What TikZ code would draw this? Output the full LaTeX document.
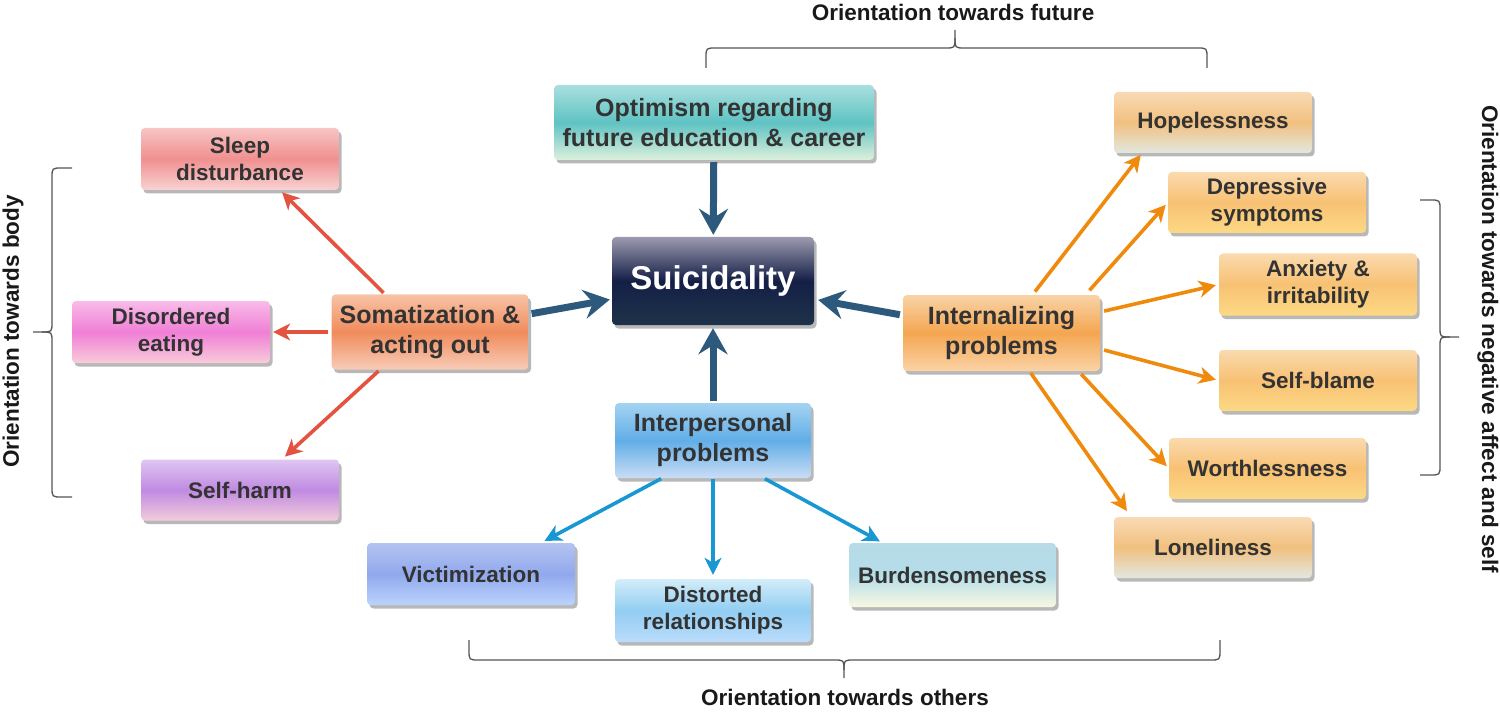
\documentclass[tikz,border=0pt]{standalone}
\usepackage{fontspec}
\setmainfont{Liberation Sans}
\usetikzlibrary{arrows.meta,shadows,calc}
\definecolor{txt}{HTML}{333333}
\definecolor{darkarr}{HTML}{2D5A7C}
\definecolor{redarr}{HTML}{E4533F}
\definecolor{orarr}{HTML}{EF8A0C}
\definecolor{bluarr}{HTML}{1897D3}
\definecolor{brc}{HTML}{555555}
% box gradients
\definecolor{optT}{HTML}{A9DFDE}\definecolor{optM}{HTML}{5FC3C3}\definecolor{optB}{HTML}{DDF0DC}
\definecolor{suiT}{HTML}{9C9AB0}\definecolor{suiM}{HTML}{141F46}\definecolor{suiB}{HTML}{1E3249}
\definecolor{slpT}{HTML}{F8C4C4}\definecolor{slpM}{HTML}{F09090}\definecolor{slpB}{HTML}{F9D2D2}
\definecolor{disT}{HTML}{F8BCE8}\definecolor{disM}{HTML}{F07FD6}\definecolor{disB}{HTML}{F8CCDA}
\definecolor{shT}{HTML}{DEC6F2}\definecolor{shM}{HTML}{C08AE2}\definecolor{shB}{HTML}{F2CCDA}
\definecolor{somT}{HTML}{F8C3A6}\definecolor{somM}{HTML}{F08C5C}\definecolor{somB}{HTML}{F8CCB8}
\definecolor{intT}{HTML}{F9D3A6}\definecolor{intM}{HTML}{F4A651}\definecolor{intB}{HTML}{FBD3A6}
\definecolor{hopT}{HTML}{F9DAB4}\definecolor{hopM}{HTML}{F1C07F}\definecolor{hopB}{HTML}{E2E8E0}
\definecolor{orgT}{HTML}{FADAAE}\definecolor{orgM}{HTML}{F8C173}\definecolor{orgB}{HTML}{FCD985}
\definecolor{ipT}{HTML}{A4D3F2}\definecolor{ipM}{HTML}{61AEE7}\definecolor{ipB}{HTML}{CADDF5}
\definecolor{vicT}{HTML}{B4C3F2}\definecolor{vicM}{HTML}{91A9EC}\definecolor{vicB}{HTML}{BBD3FC}
\definecolor{dstT}{HTML}{D3EDF9}\definecolor{dstM}{HTML}{92CDF1}\definecolor{dstB}{HTML}{BADCFC}
\definecolor{burT}{HTML}{B7DBE8}\definecolor{burM}{HTML}{B4DDE8}\definecolor{burB}{HTML}{F9F8E2}
\begin{document}
\begin{tikzpicture}[x=1pt,y=-1pt,
  box/.style={rounded corners=4pt, align=center, text=txt, inner sep=0pt,
    font=\bfseries\fontsize{25}{30}\selectfont,
    drop shadow={shadow xshift=2.5pt,shadow yshift=-3.5pt,fill=black!28,opacity=1}},
  leaf/.style={box, font=\bfseries\fontsize{22.5}{27}\selectfont},
  sh/.style={top color=#1T,bottom color=#1B,middle color=#1M},
  darr/.style={line width=7pt, draw=darkarr, -{Stealth[length=26pt,width=29pt,inset=9pt]}},
  rarr/.style={line width=3.6pt, draw=redarr, -{Stealth[length=17pt,width=17pt,inset=5pt]}},
  oarr/.style={line width=3.6pt, draw=orarr, -{Stealth[length=17pt,width=17pt,inset=5pt]}},
  barr/.style={line width=3.6pt, draw=bluarr, -{Stealth[length=17pt,width=17pt,inset=5pt]}},
  brace/.style={draw=brc, line width=1.3pt},
  hdr/.style={font=\bfseries\fontsize{22.5}{27}\selectfont, text=black!90, inner sep=0pt}
]
\useasboundingbox (0,0) rectangle (1500,714);

% ---------- nodes ----------
\node[box, sh=opt] (opt) at (714,122.5)
  [minimum width=320pt, minimum height=75pt] {Optimism regarding\\future education \& career};
\node[box, sh=sui, text=white,
  font=\bfseries\fontsize{33}{38}\selectfont] (sui) at (713,281)
  [minimum width=202pt, minimum height=88pt] {Suicidality};

\node[leaf, sh=slp] (sleep) at (240,159)
  [minimum width=198pt, minimum height=62pt] {Sleep\\disturbance};
\node[leaf, sh=dis] (dis) at (171,332)
  [minimum width=198pt, minimum height=62pt] {Disordered\\eating};
\node[leaf, sh=sh] (selfharm) at (240,490)
  [minimum width=198pt, minimum height=61pt] {Self-harm};
\node[box, sh=som] (soma) at (430,332)
  [minimum width=197pt, minimum height=75pt] {Somatization \&\\acting out};

\node[box, sh=int] (intern) at (1001.5,333)
  [minimum width=197pt, minimum height=76pt] {Internalizing\\problems};
\node[leaf, sh=hop] (hope) at (1213,122.5)
  [minimum width=198pt, minimum height=61pt] {Hopelessness};
\node[leaf, sh=org] (dep) at (1267,202.5)
  [minimum width=198pt, minimum height=61pt] {Depressive\\symptoms};
\node[leaf, sh=org] (anx) at (1318,284.5)
  [minimum width=198pt, minimum height=62pt] {Anxiety \&\\irritability};
\node[leaf, sh=org] (blame) at (1318,380.5)
  [minimum width=198pt, minimum height=61pt] {Self-blame};
\node[leaf, sh=org] (worth) at (1267.5,468.5)
  [minimum width=197pt, minimum height=61pt] {Worthlessness};
\node[leaf, sh=hop] (lone) at (1213,547.5)
  [minimum width=198pt, minimum height=61pt] {Loneliness};

\node[box, sh=ip] (inter) at (713,440.5)
  [minimum width=196pt, minimum height=75pt] {Interpersonal\\problems};
\node[leaf, sh=vic] (vict) at (471,574)
  [minimum width=208pt, minimum height=62pt] {Victimization};
\node[leaf, sh=dst] (dist) at (713,610.5)
  [minimum width=196pt, minimum height=63pt] {Distorted\\relationships};
\node[leaf, sh=bur] (burd) at (952.5,575)
  [minimum width=207pt, minimum height=64pt] {Burdensomeness};

% ---------- main arrows ----------
\draw[darr, shorten <=2pt, shorten >=2pt] (opt) -- (sui);
\draw[darr, shorten <=3pt, shorten >=2pt] (soma) -- (sui);
\draw[darr, shorten <=3pt, shorten >=4pt] (intern) -- (sui);
\draw[darr, shorten <=2pt, shorten >=3pt] (inter) -- (sui);

% ---------- red arrows ----------
\draw[rarr, shorten <=2pt, shorten >=3pt] ([xshift=-45pt]soma.north) -- ([xshift=40pt]sleep.south);
\draw[rarr, shorten <=3pt, shorten >=3pt] (soma.west) -- (dis.east);
\draw[rarr, shorten <=2pt, shorten >=4pt] ([xshift=-50pt]soma.south) -- ([xshift=42pt]selfharm.north);

% ---------- orange arrows ----------
\draw[oarr, shorten <=4pt, shorten >=2pt] ([xshift=31pt]intern.north) -- ([xshift=-71pt]hope.south);
\draw[oarr, shorten <=6pt, shorten >=3pt] ([xshift=84pt]intern.north) -- (dep.west);
\draw[oarr, shorten <=4pt, shorten >=3pt] ([yshift=21pt]intern.east) -- (anx.west);
\draw[oarr, shorten <=4pt, shorten >=3pt] ([yshift=-16pt]intern.east) -- (blame.west);
\draw[oarr, shorten <=4pt, shorten >=3pt] ([xshift=77pt]intern.south) -- (worth.west);
\draw[oarr, shorten <=2pt, shorten >=7pt] ([xshift=28pt]intern.south) -- ([xshift=-82pt]lone.north);

% ---------- blue arrows ----------
\draw[barr, shorten <=1pt, shorten >=4pt] ([xshift=-51pt]inter.south) -- ([xshift=70pt]vict.north);
\draw[barr, shorten <=1pt, shorten >=4pt] (inter.south) -- (dist.north);
\draw[barr, shorten <=1pt, shorten >=3pt] ([xshift=51pt]inter.south) -- ([xshift=-70pt]burd.north);

% ---------- braces ----------
\draw[brace] (706,68) -- (706,58) .. controls (706,48) .. (716,48) -- (945,48)
  .. controls (955,48) .. (955,38) -- (955,30);
\draw[brace] (955,38) .. controls (955,48) .. (965,48) -- (1197,48)
  .. controls (1207,48) .. (1207,58) -- (1207,68);
\node[hdr] (tfuture) at (953,12) {Orientation towards future};

\draw[brace] (469,640) -- (469,650) .. controls (469,660) .. (479,660) -- (834,660)
  .. controls (844,660) .. (844,670) -- (844,678);
\draw[brace] (844,670) .. controls (844,660) .. (854,660) -- (1210,660)
  .. controls (1220,660) .. (1220,650) -- (1220,640);
\node[hdr] (tothers) at (845,697) {Orientation towards others};

\draw[brace] (72,168) -- (62,168) .. controls (52,168) .. (52,178) -- (52,322)
  .. controls (52,332) .. (42,332) -- (33,332);
\draw[brace] (42,332) .. controls (52,332) .. (52,342) -- (52,487)
  .. controls (52,497) .. (62,497) -- (72,497);
\node[hdr, rotate=90] (tbody) at (13,331.5) {Orientation towards body};

\draw[brace] (1420,200) -- (1430,200) .. controls (1440,200) .. (1440,210) -- (1440,327)
  .. controls (1440,337) .. (1450,337) -- (1459,337);
\draw[brace] (1450,337) .. controls (1440,337) .. (1440,347) -- (1440,465)
  .. controls (1440,475) .. (1430,475) -- (1420,475);
\node[hdr, rotate=-90] (tself) at (1488,339) {Orientation towards negative affect and self};
\end{tikzpicture}
\end{document}
